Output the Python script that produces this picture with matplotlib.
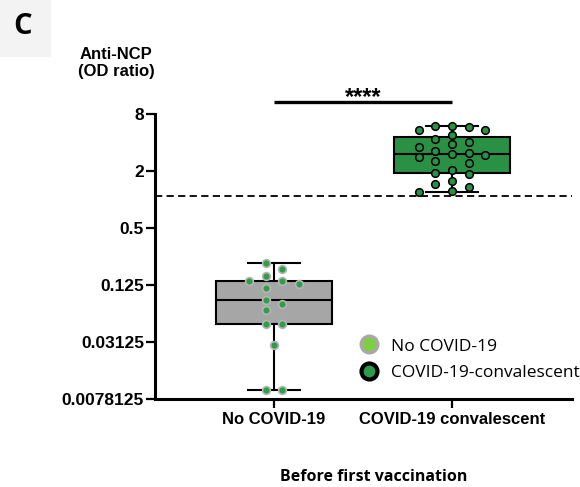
import matplotlib
matplotlib.use("Agg")
import matplotlib.pyplot as plt
import numpy as np
from matplotlib.lines import Line2D
from matplotlib.patches import Rectangle
from matplotlib.ticker import FixedLocator, FixedFormatter, NullLocator

# data (OD ratio)
groups = ["No COVID-19", "COVID-19 convalescent"]
legend_labels = ["No COVID-19", "COVID-19-convalescent"]
no_covid = [0.214, 0.185, 0.157, 0.137, 0.137, 0.127, 0.117, 0.0875, 0.078,
            0.068, 0.0484, 0.0484, 0.029, 0.00965, 0.00965]
convalescent = [5.97, 5.97, 5.87, 5.41, 5.41, 4.79, 4.35, 4.07, 3.82, 3.55,
                3.24, 3.07, 3.01, 2.94, 2.82, 2.58, 2.44, 2.05, 1.90, 1.88,
                1.57, 1.46, 1.34, 1.23, 1.19]
cutoff = 1.09
yticks = [0.0078125, 0.03125, 0.125, 0.5, 2, 8]
ytick_labels = ["0.0078125", "0.03125", "0.125", "0.5", "2", "8"]
stars = "****"

ARIAL = "Liberation Sans"
CALIBRI = "Open Sans"

fig = plt.figure(figsize=(5.8, 4.87), dpi=100)
ax = fig.add_axes([155 / 580, 1 - 399 / 487, 417 / 580, 285 / 487])

ax.set_yscale("log", base=2)
ax.set_ylim(yticks[0], yticks[-1])
ax.set_xlim(-0.6685, 1.674)
ax.yaxis.set_major_locator(FixedLocator(yticks))
ax.yaxis.set_major_formatter(FixedFormatter(ytick_labels))
ax.yaxis.set_minor_locator(NullLocator())

for s in ["top", "right"]:
    ax.spines[s].set_visible(False)
for s in ["left", "bottom"]:
    ax.spines[s].set_linewidth(2.2)
ax.tick_params(axis="both", width=1.6, length=6.5)
ax.tick_params(axis="y", pad=1.5, labelsize=12.5)
ax.tick_params(axis="x", pad=3, labelsize=12)

# boxes: quartiles GraphPad style, whiskers min..max
stats = []
for i, vals in enumerate([no_covid, convalescent]):
    v = np.array(vals)
    q1, med, q3 = np.percentile(v, [25, 50, 75], method="weibull")
    stats.append(dict(med=med, q1=q1, q3=q3, whislo=v.min(), whishi=v.max(),
                      fliers=[], label=groups[i]))
box_colors = ["#a6a6a6", "#2a9144"]
bp = ax.bxp(stats, positions=[0, 1], widths=0.657, capwidths=0.29,
            patch_artist=True, showfliers=False,
            boxprops=dict(linewidth=1.5, edgecolor="black"),
            medianprops=dict(linewidth=1.5, color="black"),
            whiskerprops=dict(linewidth=1.5, color="black"),
            capprops=dict(linewidth=1.5, color="black"))
for patch, c in zip(bp["boxes"], box_colors):
    patch.set_facecolor(c)
ax.set_xticks([0, 1])
ax.set_xticklabels(groups)
for lab in ax.get_xticklabels() + ax.get_yticklabels():
    lab.set_fontfamily(ARIAL)
    lab.set_fontweight("bold")


def grid_swarm(values, center, half, d=9.0, step=0.0933):
    """place points on a column grid, nearest column without overlap"""
    values = np.asarray(values, dtype=float)
    ypix = ax.transData.transform(
        np.column_stack([np.full(len(values), center), values]))[:, 1]
    if half:
        cols = [s * (k + 0.5) for k in range(6) for s in (-1, 1)]
    else:
        cols = [0] + [s * k for k in range(1, 6) for s in (-1, 1)]
    placed = {}
    offs = np.zeros(len(values))
    for i in np.argsort(-values):
        others = np.delete(ypix, i)
        if np.all(np.abs(others - ypix[i]) >= d):
            offs[i] = 0
            continue
        for c in cols:
            if all(abs(ypix[i] - y) >= d for y in placed.get(c, [])):
                placed.setdefault(c, []).append(ypix[i])
                offs[i] = c
                break
    return center + offs * step


x0 = grid_swarm(no_covid, 0, half=True)
ax.plot(x0, no_covid, "o", ms=5.6, mfc="#2e9e4a", mec="#b5b5b5", mew=1.2,
        zorder=5, clip_on=False)
x1 = grid_swarm(convalescent, 1, half=False)
ax.plot(x1, convalescent, "o", ms=5.5, mfc="#2a9144", mec="black", mew=1.1,
        zorder=5, clip_on=False)

ax.axhline(cutoff, color="black", lw=1.3, ls=(0, (4, 2.4)), zorder=1)

# significance bar
sig_y = 10.7
ax.plot([0, 1], [sig_y, sig_y], color="black", lw=2.4, clip_on=False,
        solid_capstyle="butt")
ax.annotate(stars, xy=(0.5, sig_y), xytext=(0, -1.5), textcoords="offset points",
            ha="center", va="baseline", fontsize=17, fontweight="bold",
            family=ARIAL, annotation_clip=False)

handles = [
    Line2D([], [], ls="", marker="o", ms=11.9, mfc="#7dd03c", mec="#a8a8a8",
           mew=2.5),
    Line2D([], [], ls="", marker="o", ms=11.5, mfc="#2e9a4e", mec="black",
           mew=3.0),
]
ax.legend(handles, legend_labels, loc="upper left",
          bbox_to_anchor=(0.495, 0.2126), frameon=False, borderpad=0,
          borderaxespad=0, handlelength=0.9, handletextpad=0.8,
          labelspacing=0.59, prop=dict(family=CALIBRI, size=12.5))

fig.text(116 / 580, 1 - 63 / 487, "Anti-NCP\n(OD ratio)", ha="center",
         va="center", fontsize=12, fontweight="bold", family=ARIAL,
         linespacing=1.2)
fig.text(374 / 580, 1 - 477 / 487, "Before first vaccination", ha="center",
         va="center", fontsize=11.5, fontweight="bold", family=CALIBRI)

fig.patches.append(Rectangle((0, 1 - 56 / 487), 50 / 580, 56 / 487,
                             transform=fig.transFigure, color="#f3f3f3",
                             zorder=0))
fig.text(23 / 580, 1 - 27 / 487, "C", ha="center", va="center", fontsize=21,
         fontweight="bold", family=CALIBRI)

fig.savefig("out.png", dpi=100)
